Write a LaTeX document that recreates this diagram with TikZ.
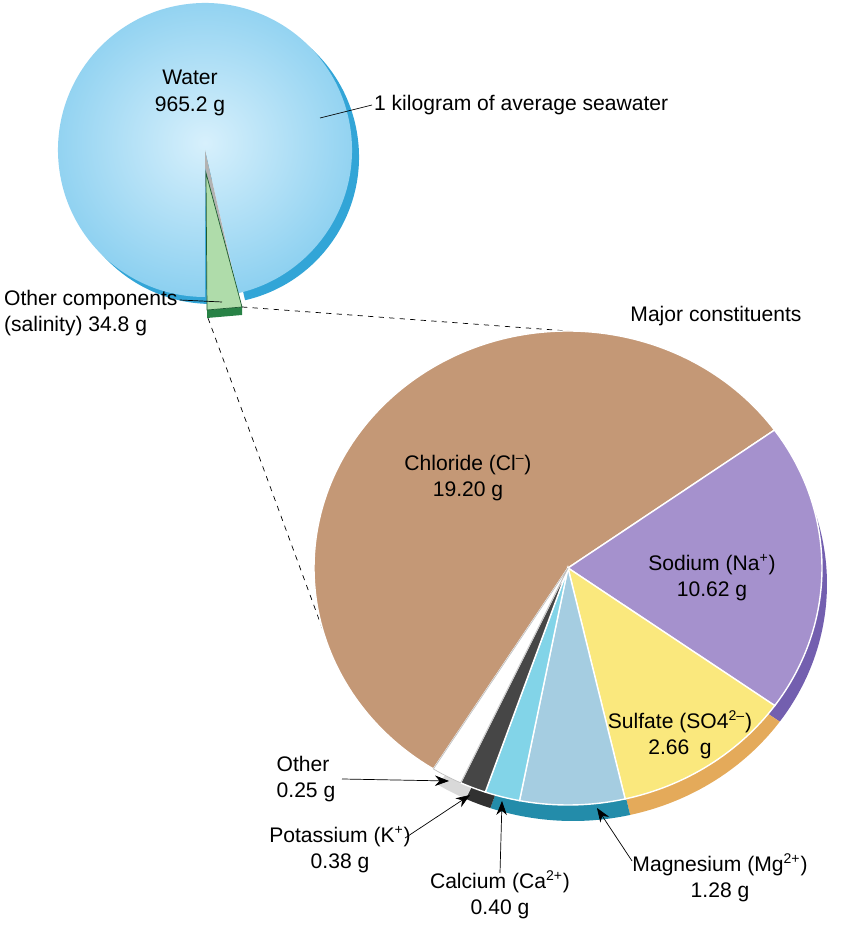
\documentclass[tikz,border=0pt]{standalone}
\usepackage{fontspec}
\setmainfont{Liberation Sans}
\usetikzlibrary{arrows.meta}
\definecolor{water}{RGB}{140,208,240}
\definecolor{waterlt}{RGB}{215,240,252}
\definecolor{waterdk}{RGB}{50,165,215}
\definecolor{chloride}{RGB}{196,152,118}
\definecolor{sodium}{RGB}{165,145,205}
\definecolor{sodiumdk}{RGB}{115,95,175}
\definecolor{sulfate}{RGB}{250,232,125}
\definecolor{sulfatedk}{RGB}{228,170,90}
\definecolor{magnes}{RGB}{165,205,225}
\definecolor{teal}{RGB}{35,140,170}
\definecolor{calcium}{RGB}{130,212,232}
\definecolor{potass}{RGB}{70,70,70}
\definecolor{salt}{RGB}{175,220,170}
\definecolor{saltdk}{RGB}{40,130,70}
\newcommand\piewedge[3]{(#3) -- ++(#1:254 and 237) arc[start angle=#1,end angle=#2,x radius=254,y radius=237] -- cycle}
\begin{document}
\begin{tikzpicture}[x=0.02cm,y=0.02cm,
    lbl/.style={font=\fontsize{12}{15}\selectfont,align=center,inner sep=1pt},
    lead/.style={-{Stealth[length=8pt,width=6pt]},thin},
    edge/.style={draw=white,line width=0.8pt}]
  \useasboundingbox (0,0) rectangle (840,933);
  \coordinate (TC) at (205,783);
  \coordinate (BC) at (568,365);
  \coordinate (BS) at (573,349);

  % seawater pie
  \fill[waterdk] ([shift={(7,-7)}]TC) -- ++(-77:147) arc[start angle=-77,end angle=270,radius=147] -- cycle;
  \shade[inner color=waterlt,outer color=water] (TC) -- ++(-77:147) arc[start angle=-77,end angle=270,radius=147] -- cycle;
  \fill[gray!60] (TC) -- (207,633) -- (240,630) -- cycle;
  \fill[saltdk] (207,623) -- (242,626) -- (242,618) -- (207,615) -- cycle;
  \fill[salt,draw=saltdk!70!black,thin] (206,760) -- (207,623) -- (242,626) -- cycle;
  \node[lbl] (water) at (190,840) {Water\\965.2 g};
  \node[lbl,anchor=west] (kilo) at (372,828) {1 kilogram of average seawater};
  \draw[thin] (320,815) -- (kilo.west);
  \node[lbl,align=left,anchor=west] (other comp) at (2,620) {Other components\\(salinity) 34.8 g};
  \coordinate (salt end) at (222,631);
  \draw[thin] (other comp.east |- 0,633) -- (salt end);

  % zoom lines
  \draw[dashed,thin] (242,626) -- (568,602);
  \draw[dashed,thin] (208,615) -- (327,292);
  \node[lbl] (major) at (716,617) {Major constituents};

  % side band
  \fill[sodiumdk] \piewedge{-35.5}{35.6}{BS};
  \fill[sulfatedk] \piewedge{-77}{-35.5}{BS};
  \fill[teal] \piewedge{-109}{-77}{BS};
  \fill[potass!70!black] \piewedge{-115}{-109}{BS};
  \fill[gray!30] \piewedge{-122}{-115}{BS};

  % constituents pie
  \fill[chloride,edge] \piewedge{35.6}{238}{BC};
  \fill[sodium,edge] \piewedge{-35.5}{35.6}{BC};
  \fill[sulfate,edge] \piewedge{-77}{-35.5}{BC};
  \fill[magnes,edge] \piewedge{-101}{-77}{BC};
  \fill[calcium,edge] \piewedge{-109}{-101}{BC};
  \fill[potass,edge] \piewedge{-115}{-109}{BC};
  \fill[white,draw=gray!50,thin] \piewedge{-122}{-115}{BC};

  \node[lbl] (chloride) at (468,455) {Chloride (Cl\textsuperscript{–})\\19.20 g};
  \node[lbl] (sodium) at (712,355) {Sodium (Na\textsuperscript{+})\\10.62 g};
  \node[lbl] (sulfate) at (680,198) {Sulfate (SO4\textsuperscript{2–})\\2.66\enspace g};
  \node[lbl,align=left] (other) at (306,154) {Other\\0.25 g};
  \node[lbl] (potassium) at (340,83) {Potassium (K\textsuperscript{+})\\0.38 g};
  \node[lbl] (calcium) at (500,38) {Calcium (Ca\textsuperscript{2+})\\0.40 g};
  \node[lbl] (magnesium) at (720,55) {Magnesium (Mg\textsuperscript{2+})\\1.28 g};
  \coordinate (other tip) at (449,152);
  \coordinate (potassium tip) at (470,138);
  \coordinate (calcium tip) at (502,132);
  \coordinate (magnesium tip) at (597,125);
  \draw[lead] (342,154) -- (other tip);
  \draw[lead] (405,95) -- (potassium tip);
  \draw[lead] (500,60) -- (calcium tip);
  \draw[lead] (632,72) -- (magnesium tip);
\end{tikzpicture}
\end{document}
